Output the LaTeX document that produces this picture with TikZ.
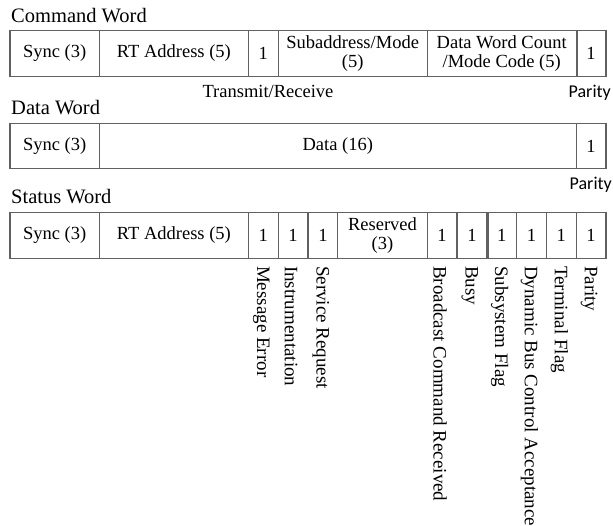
\documentclass[tikz,border=0pt]{standalone}
\usepackage{fontspec}
\setmainfont{Liberation Serif}
\newfontfamily\parityfont{Carlito}
\newfontfamily\fieldfont{Liberation Serif}

% bit width and left edge of every word, in pt
\def\bw{29.8}
\def\xo{10}
% #1 name, #2 row centre y, #3 first bit, #4 number of bits, #5 text
\newcommand\wordfield[5]{%
  \node[cell, minimum width={#4*\bw pt}] (#1) at ({\xo+(#3+#4/2)*\bw}, #2) {#5};}
% two stacked lines inside a field
\newcommand\twolines[2]{\begin{tabular}{@{}c@{}}#1\\[-3pt]#2\end{tabular}}

\begin{document}
\begin{tikzpicture}[x=1pt,y=-1pt,
  cell/.style={draw=black!62, line width=1.3pt, inner sep=0pt, minimum height=45.5pt,
    text=black, font=\fieldfont\fontsize{18.5}{22}\selectfont},
  wordtitle/.style={anchor=base west, inner sep=0pt, font=\fontsize{20.5}{24}\selectfont},
  note/.style={inner sep=0pt, font=\fontsize{18.5}{22}\selectfont},
  paritynote/.style={inner sep=0pt, anchor=base east, font=\parityfont\fontsize{18}{21}\selectfont},
  flag/.style={rotate=-90, anchor=west, inner sep=0pt, font=\fontsize{19}{22}\selectfont},
  seam/.style={draw=black!62, line width=2.6pt}]

\useasboundingbox[fill=white] (0,0) rectangle (613,525);

% ---------------- Command Word ----------------
\node[wordtitle] (cmdTitle) at (11,22) {Command Word};
\wordfield{cSync}{53.5}{0}{3}{Sync (3)}
\wordfield{cRT}{53.5}{3}{5}{RT Address (5)}
\wordfield{cTR}{53.5}{8}{1}{1}
\wordfield{cSub}{53.5}{9}{5}{\twolines{Subaddress/Mode}{(5)}}
\wordfield{cCnt}{53.5}{14}{5}{\twolines{Data Word Count}{/Mode Code (5)}}
\wordfield{cPar}{53.5}{19}{1}{1}
\draw[seam] (cCnt.north east) -- (cCnt.south east);
\node[note, anchor=base] (trNote) at (268,97) {Transmit/Receive};
\node[paritynote] (cParNote) at (611,97) {Parity};

% ---------------- Data Word ----------------
\node[wordtitle] (dataTitle) at (11,114) {Data Word};
\wordfield{dSync}{146}{0}{3}{Sync (3)}
\wordfield{dData}{146}{3}{16}{Data (16)}
\wordfield{dPar}{146}{19}{1}{1}
\node[paritynote] (dParNote) at (612,189) {Parity};

% ---------------- Status Word ----------------
\node[wordtitle] (statTitle) at (11,203) {Status Word};
\wordfield{sSync}{235.5}{0}{3}{Sync (3)}
\wordfield{sRT}{235.5}{3}{5}{RT Address (5)}
\wordfield{sME}{235.5}{8}{1}{1}
\wordfield{sIN}{235.5}{9}{1}{1}
\wordfield{sSR}{235.5}{10}{1}{1}
\wordfield{sRes}{235.5}{11}{3}{\twolines{Reserved}{(3)}}
\wordfield{sBC}{235.5}{14}{1}{1}
\wordfield{sBusy}{235.5}{15}{1}{1}
\wordfield{sSF}{235.5}{16}{1}{1}
\wordfield{sDB}{235.5}{17}{1}{1}
\wordfield{sTF}{235.5}{18}{1}{1}
\wordfield{sPar}{235.5}{19}{1}{1}
\draw[seam] (sBusy.north east) -- (sBusy.south east);

% status bit names, written downwards under their bits
\node[flag] (fME)   at ([xshift=-2pt,yshift=-7pt]sME.south)   {Message Error};
\node[flag] (fIN)   at ([xshift=-2pt,yshift=-7pt]sIN.south)   {Instrumentation};
\node[flag] (fSR)   at ([xshift=-2pt,yshift=-7pt]sSR.south)   {Service Request};
\node[flag] (fBC)   at ([xshift=-2pt,yshift=-7pt]sBC.south)   {Broadcast Command Received};
\node[flag] (fBusy) at ([xshift=-2pt,yshift=-7pt]sBusy.south) {Busy};
\node[flag] (fSF)   at ([xshift=-2pt,yshift=-7pt]sSF.south)   {Subsystem Flag};
\node[flag] (fDB)   at ([xshift=-2pt,yshift=-7pt]sDB.south)   {Dynamic Bus Control Acceptance};
\node[flag] (fTF)   at ([xshift=-2pt,yshift=-7pt]sTF.south)   {Terminal Flag};
\node[flag] (fPar)  at ([xshift=-2pt,yshift=-7pt]sPar.south)  {Parity};
\end{tikzpicture}
\end{document}
